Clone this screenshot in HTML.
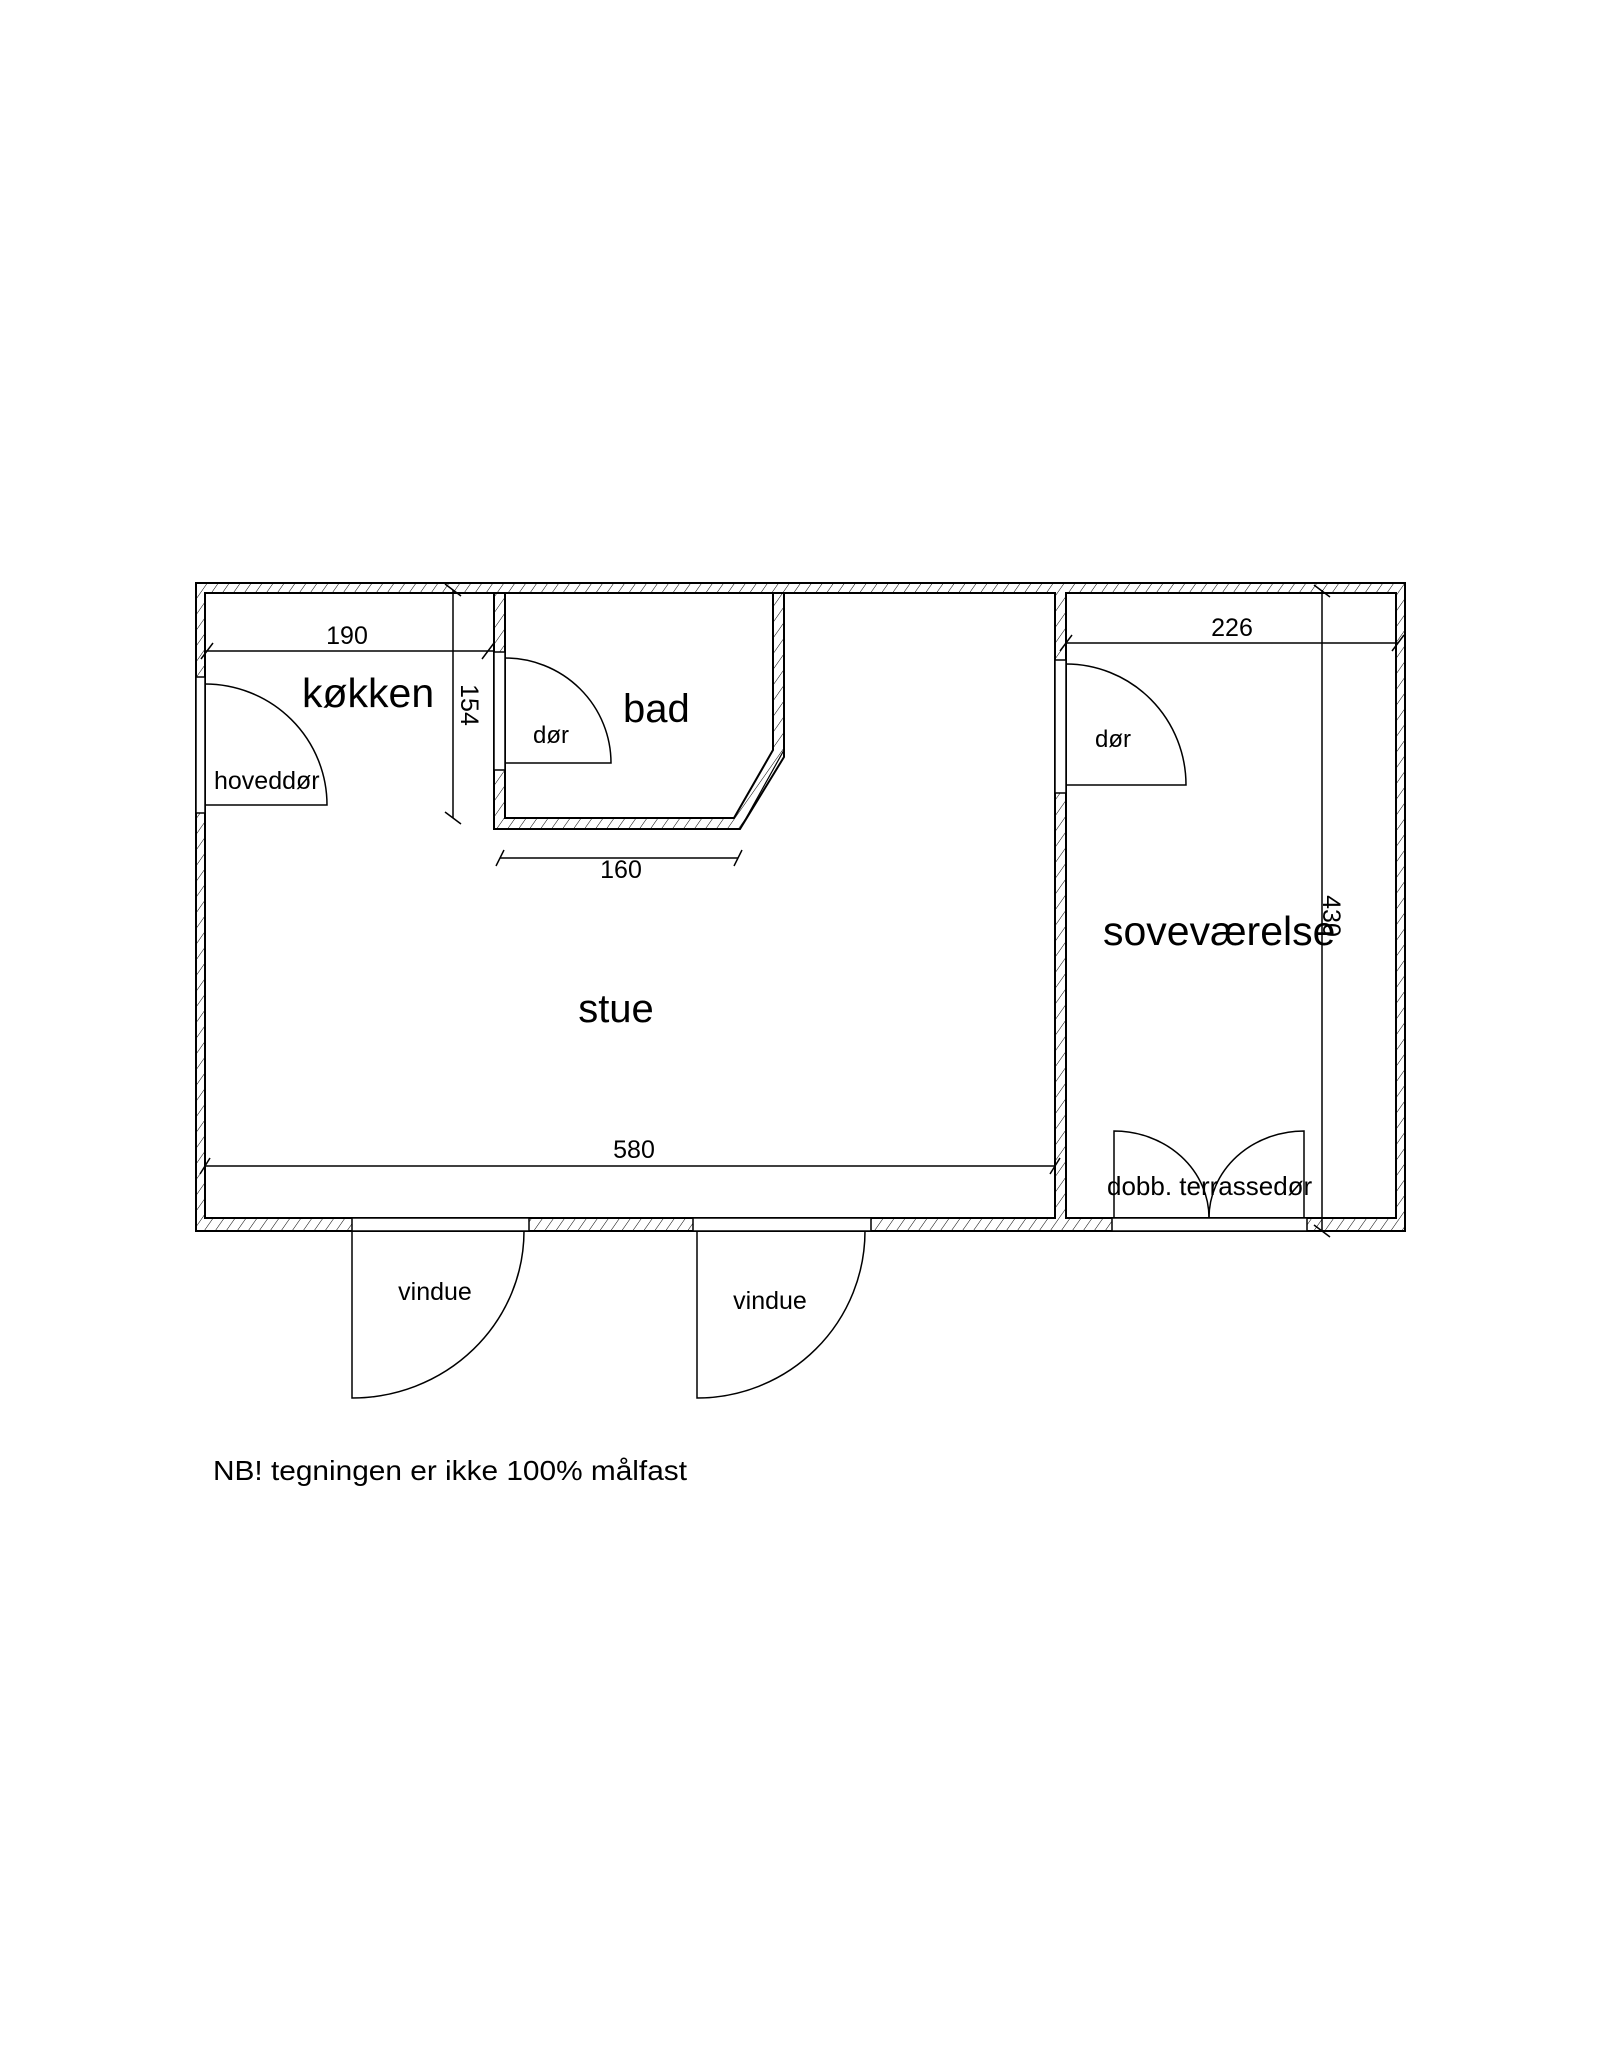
<!DOCTYPE html>
<html><head><meta charset="utf-8"><style>
html,body{margin:0;padding:0;background:#fff;}
svg{display:block;}
text{font-family:"Liberation Sans",sans-serif;fill:#000;}
</style></head><body>
<svg width="1600" height="2070" viewBox="0 0 1600 2070" xmlns="http://www.w3.org/2000/svg">
<defs>
<pattern id="h" patternUnits="userSpaceOnUse" width="9" height="9" patternTransform="rotate(35)">
<rect width="9" height="9" fill="#fff"/>
<line x1="0" y1="0" x2="0" y2="9" stroke="#000" stroke-width="1"/>
</pattern>
</defs>
<g stroke="#000" stroke-width="2" fill="none">
<rect x="196" y="583" width="1209" height="648" fill="url(#h)"/>
<rect x="205" y="593" width="850" height="625" fill="#fff"/>
<rect x="1066" y="593" width="330" height="625" fill="#fff"/>
<polygon points="494,593 784,593 784,757 740,829 494,829" fill="url(#h)"/>
<polygon points="505,593 773,593 773,750 734,818 505,818" fill="#fff"/>
<line x1="740" y1="829" x2="784" y2="750" stroke-width="1.2"/>
<rect x="196" y="677" width="9" height="136" fill="#fff" stroke-width="1.5"/>
<rect x="494" y="652" width="11" height="118" fill="#fff" stroke-width="1.5"/>
<rect x="1055" y="660" width="11" height="133" fill="#fff" stroke-width="1.5"/>
<rect x="352" y="1218" width="177" height="13" fill="#fff" stroke-width="1.5"/>
<rect x="693" y="1218" width="178" height="13" fill="#fff" stroke-width="1.5"/>
<rect x="1112" y="1218" width="195" height="13" fill="#fff" stroke-width="1.5"/>
</g>
<g stroke="#000" stroke-width="1.5" fill="none">
<path d="M205,684 A122,121 0 0 1 327,805 L205,805"/>
<path d="M505,658 A106,105 0 0 1 611,763 L505,763"/>
<path d="M1066,664 A120,121 0 0 1 1186,785 L1066,785"/>
<path d="M1114,1218 L1114,1131 A95,87 0 0 1 1209,1218"/>
<path d="M1304,1218 L1304,1131 A95,87 0 0 0 1209,1218"/>
<path d="M352,1231 L352,1398 A172,167 0 0 0 524,1231"/>
<path d="M697,1231 L697,1398 A168,167 0 0 0 865,1231"/>
<line x1="205" y1="651" x2="494" y2="651"/>
<line x1="201" y1="659" x2="213" y2="643"/><line x1="482" y1="659" x2="494" y2="643"/>
<line x1="453" y1="590" x2="453" y2="818"/>
<line x1="445" y1="584" x2="461" y2="596"/><line x1="445" y1="812" x2="461" y2="824"/>
<line x1="500" y1="858" x2="738" y2="858"/>
<line x1="496" y1="866" x2="504" y2="850"/><line x1="734" y1="866" x2="742" y2="850"/>
<line x1="1066" y1="643" x2="1398" y2="643"/>
<line x1="1060" y1="651" x2="1072" y2="635"/><line x1="1392" y1="651" x2="1404" y2="635"/>
<line x1="1322" y1="590" x2="1322" y2="1231"/>
<line x1="1314" y1="585" x2="1330" y2="597"/><line x1="1314" y1="1225" x2="1330" y2="1237"/>
<line x1="205" y1="1166" x2="1055" y2="1166"/>
<line x1="200" y1="1174" x2="210" y2="1158"/><line x1="1050" y1="1174" x2="1060" y2="1158"/>
</g>
<g>
<text x="347" y="644" font-size="25" text-anchor="middle">190</text>
<text x="1232" y="636" font-size="25" text-anchor="middle">226</text>
<text x="621" y="878" font-size="25" text-anchor="middle">160</text>
<text x="634" y="1158" font-size="25" text-anchor="middle">580</text>
<text transform="translate(461,705) rotate(90)" font-size="25" text-anchor="middle">154</text>
<text transform="translate(1323,916) rotate(90)" font-size="25" text-anchor="middle">430</text>
<text x="302" y="707" font-size="41">køkken</text>
<text x="623" y="722" font-size="40">bad</text>
<text x="533" y="743" font-size="24">dør</text>
<text x="214" y="789" font-size="25">hoveddør</text>
<text x="1113" y="747" font-size="24" text-anchor="middle">dør</text>
<text x="1103" y="945" font-size="41">soveværelse</text>
<text x="616" y="1022" font-size="40" text-anchor="middle">stue</text>
<text x="1107" y="1195" font-size="26">dobb. terrassedør</text>
<text x="435" y="1300" font-size="25" text-anchor="middle">vindue</text>
<text x="770" y="1309" font-size="25" text-anchor="middle">vindue</text>
<text x="213" y="1480" font-size="28" textLength="474" lengthAdjust="spacingAndGlyphs">NB! tegningen er ikke 100% målfast</text>
</g>
</svg>
</body></html>
